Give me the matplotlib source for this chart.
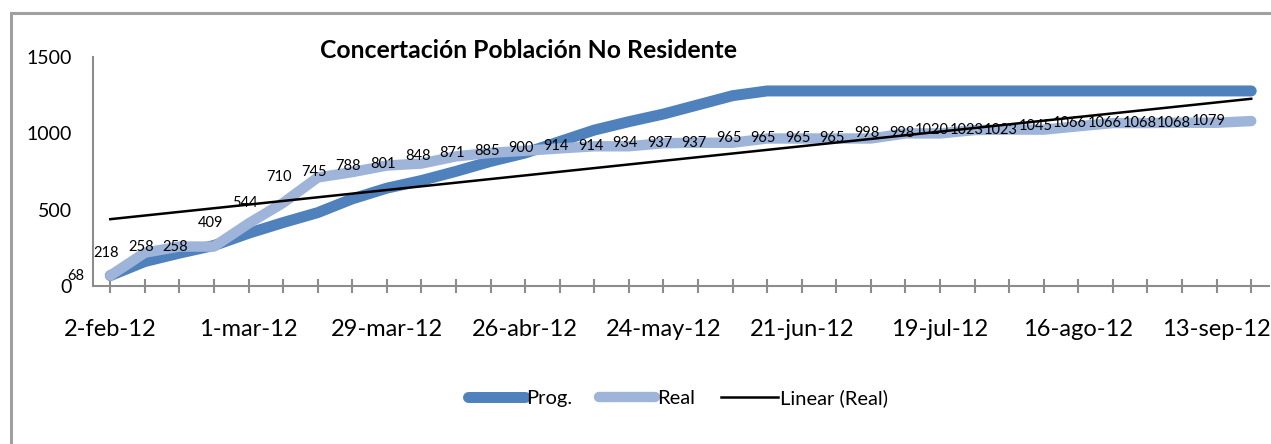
import numpy as np
import pandas as pd
import matplotlib
matplotlib.use('Agg')
import matplotlib.pyplot as plt
import matplotlib.dates as mdates
from matplotlib.patches import Rectangle

plt.rcParams['font.family'] = ['Lato', 'DejaVu Sans']

# Datos (semanal, desde 2-feb-12)
fechas = pd.date_range('2012-02-02', periods=34, freq='7D')
meses = ['ene', 'feb', 'mar', 'abr', 'may', 'jun', 'jul', 'ago', 'sep', 'oct', 'nov', 'dic']
prog = [68, 160, 215, 265, 345, 415, 480, 570, 640, 690, 750, 815, 870, 945, 1020,
        1075, 1125, 1185, 1245, 1276, 1276, 1276, 1276, 1276, 1276, 1276, 1276,
        1276, 1276, 1276, 1276, 1276, 1276, 1276]
real = [68, 218, 258, 258, 409, 544, 710, 745, 788, 801, 848, 871, 885, 900, 914,
        914, 934, 937, 937, 965, 965, 965, 965, 998, 998, 1020, 1023, 1023, 1045,
        1066, 1066, 1068, 1068, 1079]
titulo = 'Concertación Población No Residente'

x = mdates.date2num(fechas)
coef = np.polyfit(x, real, 1)
tendencia = np.polyval(coef, x)

fig = plt.figure(figsize=(12.71, 4.44), dpi=100)
ax = fig.add_axes([93 / 1271, 158 / 444, 1176 / 1271, 229.3 / 444])

ax.plot(fechas, prog, color='#4F81BD', lw=7.9, solid_capstyle='round', label='Prog.')
ax.plot(fechas, real, color='#9FB4D9', lw=7.5, solid_capstyle='round', label='Real')
ax.plot(fechas, tendencia, color='black', lw=1.8, label='Linear (Real)')

for f, v in zip(fechas, real):
    ax.annotate(str(v), (f, v), xytext=(-18.5, 0), textcoords='offset points',
                ha='right', va='center', fontsize=10.5)

ax.set_ylim(0, 1500)
ax.set_yticks([0, 500, 1000, 1500])
ax.set_xlim(fechas[0] - pd.Timedelta(days=3.5), fechas[-1] + pd.Timedelta(days=3.6))
ax.set_xticks(fechas)
ax.set_xticklabels([f'{d.day}-{meses[d.month - 1]}-12' if i % 4 == 0 else ''
                    for i, d in enumerate(fechas)])
ax.tick_params(axis='y', length=0, pad=15, labelsize=14)
ax.tick_params(axis='x', direction='inout', length=9.5, width=1.5, color='#8c8c8c',
               pad=19, labelsize=17)
for s in ['top', 'right']:
    ax.spines[s].set_visible(False)
for s in ['left', 'bottom']:
    ax.spines[s].set_color('#8c8c8c')
    ax.spines[s].set_linewidth(1.5)

fig.text(528 / 1271, 1 - 51 / 444, titulo, ha='center', va='center',
         fontsize=17.8, fontweight='bold')

fig.legend(loc='center', bbox_to_anchor=(678 / 1271, 1 - 398 / 444), ncol=3,
           frameon=False, fontsize=14.5, handlelength=2.8, handletextpad=0.1,
           columnspacing=1.3)

fig.add_artist(Rectangle((11 / 1271, -0.1), 1.2, 1.1 - 13 / 444,
                         transform=fig.transFigure, fill=False,
                         edgecolor='#a0a0a0', lw=2.2, clip_on=False))

fig.savefig('out.png', dpi=100)
